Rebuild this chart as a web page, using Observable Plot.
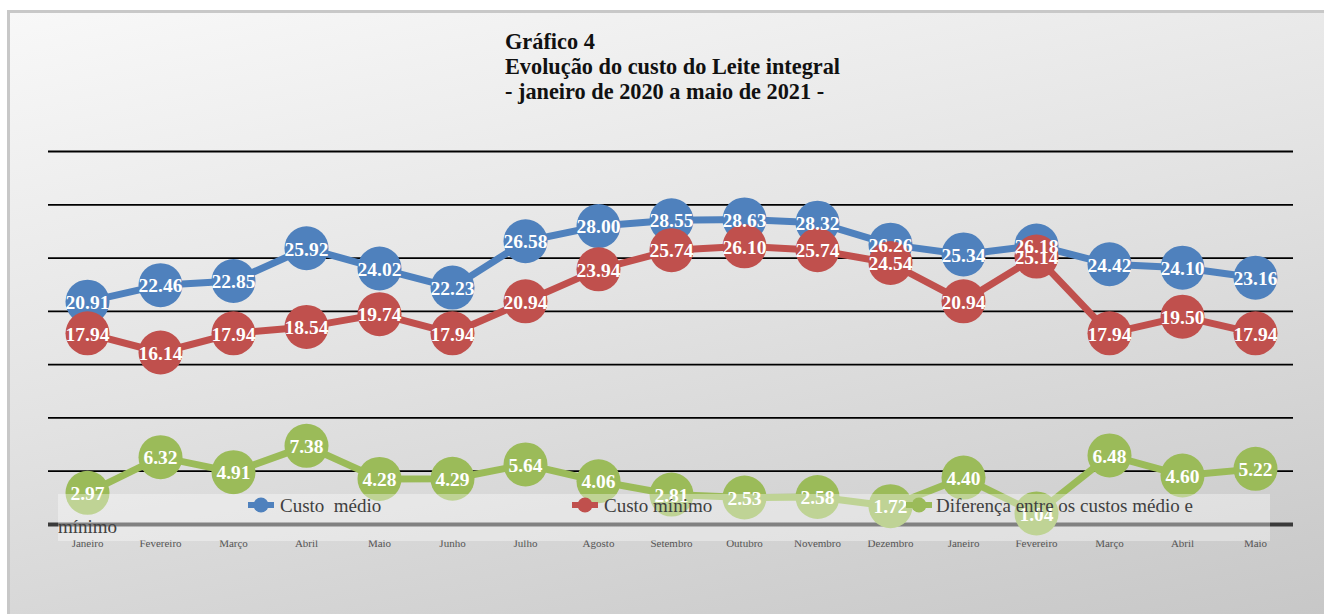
<!DOCTYPE html>
<html>
<head>
<meta charset="utf-8">
<script src="https://cdn.jsdelivr.net/npm/d3@7"></script>
<script src="https://cdn.jsdelivr.net/npm/@observablehq/plot@0.6"></script>
<style>
  body { margin: 0; width: 1324px; height: 614px; overflow: hidden; background: #fff; position: relative; }
  #frame { position: absolute; left: 7px; top: 10px; width: 1330px; height: 620px;
    border-top: 3px solid #c8c8c8; border-left: 3px solid #c8c8c8;
    background: linear-gradient(168deg, #f8f8f8 0%, #e3e3e3 45%, #c6c6c6 100%); }
  #title { position: absolute; left: 505px; top: 29px; font-family: "Liberation Serif", serif;
    font-weight: bold; font-size: 22.3px; line-height: 25px; color: #111; }
  #chart { position: absolute; left: 0; top: 0; }
  #legend { position: absolute; left: 58px; top: 494px; width: 1212px; height: 47px;
    background: rgba(255,255,255,0.36); font-family: "Liberation Serif", serif; font-size: 19px; color: #404040; }
  .item { position: absolute; white-space: pre; line-height: 21px; }
</style>
</head>
<body>
<div id="frame"></div>
<div id="title"></div>
<div id="chart"></div>
<div id="legend"></div>
<script>
const months = ["Janeiro","Fevereiro","Março","Abril","Maio","Junho","Julho","Agosto","Setembro","Outubro","Novembro","Dezembro","Janeiro","Fevereiro","Março","Abril","Maio"];
const custoMedio = [20.91,22.46,22.85,25.92,24.02,22.23,26.58,28.00,28.55,28.63,28.32,26.26,25.34,26.18,24.42,24.10,23.16];
const custoMinimo = [17.94,16.14,17.94,18.54,19.74,17.94,20.94,23.94,25.74,26.10,25.74,24.54,20.94,25.14,17.94,19.50,17.94];
const diferenca = [2.97,6.32,4.91,7.38,4.28,4.29,5.64,4.06,2.81,2.53,2.58,1.72,4.40,1.04,6.48,4.60,5.22];
const gridTicks = [5,10,15,20,25,30,35];
const titleLines = ["Gráfico 4", "Evolução do custo do Leite integral", "- janeiro de 2020 a maio de 2021 -"];
const seriesNames = ["Custo  médio", "Custo mínimo", "Diferença entre os custos médio e mínimo"];
const colors = ["#4F81BD", "#C0504D", "#9BBB59"];

document.getElementById("title").innerHTML = titleLines.map(t => `<div>${t}</div>`).join("");

const allSeries = [custoMedio, custoMinimo, diferenca];
const data = allSeries.flatMap((vals, s) => vals.map((v, i) => ({i, v, s})));

const chart = Plot.plot({
  width: 1324, height: 614,
  marginTop: 151, marginBottom: 90, marginLeft: 48, marginRight: 31,
  style: {background: "transparent", fontFamily: "Liberation Serif, serif", overflow: "visible"},
  x: {type: "point", domain: d3.range(months.length), padding: 0.5, label: null},
  y: {domain: [0, 35], axis: null},
  marks: [
    Plot.ruleY(gridTicks, {stroke: "#000", strokeWidth: 1.8}),
    Plot.ruleY([0], {stroke: "#3a3a3a", strokeWidth: 4}),
    Plot.axisX({tickSize: 0, tickPadding: 15, fontSize: 11, fill: "#555", tickFormat: i => months[i], label: null}),
    ...allSeries.map((vals, s) => [
      Plot.line(data.filter(d => d.s === s), {x: "i", y: "v", stroke: colors[s], strokeWidth: 7}),
      Plot.dot(data.filter(d => d.s === s), {x: "i", y: "v", r: 22, fill: colors[s]})
    ]).flat(),
    Plot.text(data, {x: "i", y: "v", text: d => d.v.toFixed(2), fill: "#fff", fontWeight: "bold", fontSize: 19.5, fontFamily: "Liberation Serif, serif", dy: 1})
  ]
});
document.getElementById("chart").append(chart);

// legend
const legend = document.getElementById("legend");
const itemPos = [{x: 188, tx: 222}, {x: 512, tx: 546}, {x: 846, tx: 878}];
seriesNames.forEach((name, s) => {
  const m = document.createElementNS("http://www.w3.org/2000/svg", "svg");
  m.setAttribute("width", 30); m.setAttribute("height", 16);
  m.style.position = "absolute"; m.style.left = itemPos[s].x + "px"; m.style.top = "3px";
  m.innerHTML = `<line x1="2" x2="28" y1="8" y2="8" stroke="${colors[s]}" stroke-width="6"/><circle cx="15" cy="8" r="7.5" fill="${colors[s]}"/>`;
  legend.append(m);
  if (s < 2) {
    const t = document.createElement("div");
    t.className = "item"; t.style.left = itemPos[s].tx + "px"; t.style.top = "1px";
    t.textContent = name;
    legend.append(t);
  } else {
    const words = name.split(" ");
    const t1 = document.createElement("div");
    t1.className = "item"; t1.style.left = itemPos[s].tx + "px"; t1.style.top = "1px";
    t1.textContent = words.slice(0, -1).join(" ");
    const t2 = document.createElement("div");
    t2.className = "item"; t2.style.left = "0px"; t2.style.top = "22px";
    t2.textContent = words[words.length - 1];
    legend.append(t1, t2);
  }
});
</script>
</body>
</html>
